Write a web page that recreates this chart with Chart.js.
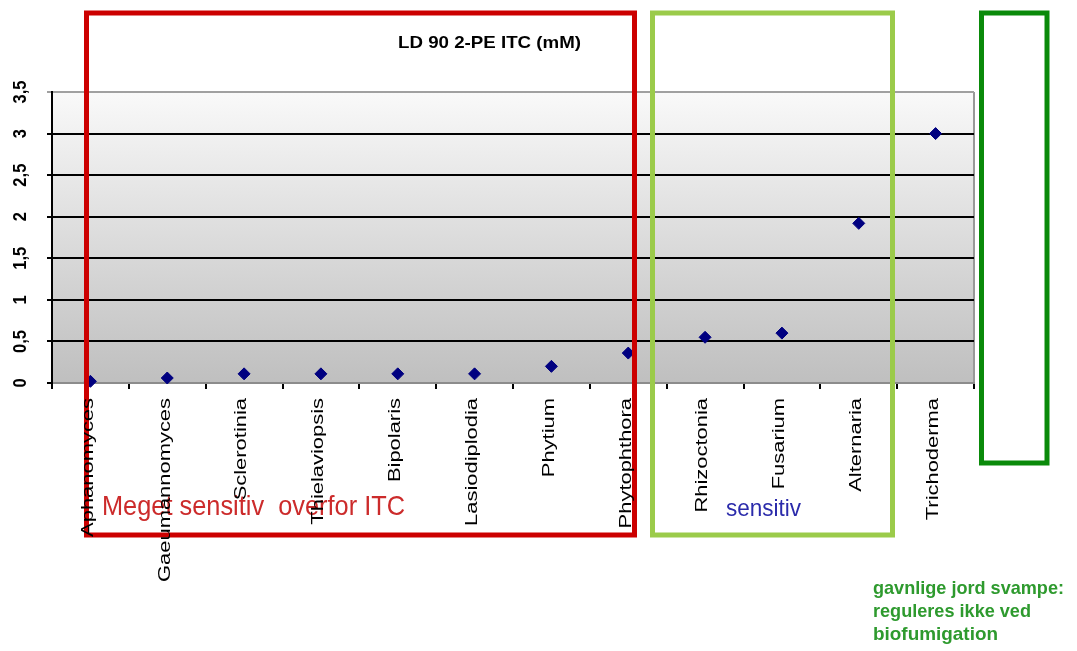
<!DOCTYPE html>
<html lang="da">
<head>
<meta charset="UTF-8">
<title>LD 90 2-PE ITC (mM)</title>
<script src="https://cdn.jsdelivr.net/npm/chart.js"></script>
<style>
    html, body { margin: 0; padding: 0; background: #ffffff; }
    #wrap { width: 1077px; height: 651px; }
</style>
</head>
<body>
<div id="wrap"><canvas id="chart"></canvas></div>
<script>
// fungi, in plot order
const categories = ["Aphanomyces", "Gaeumannomyces", "Sclerotinia", "Thielaviopsis", "Bipolaris",
    "Lasiodiplodia", "Phytium", "Phytophthora", "Rhizoctonia", "Fusarium", "Alternaria", "Trichoderma"];
// LD 90 of 2-PE ITC, mM
const ld90 = [0.02, 0.06, 0.11, 0.11, 0.11, 0.11, 0.2, 0.36, 0.55, 0.6, 1.92, 3.0];
const yMin = 0, yMax = 3.5, yStep = 0.5;

const titleText = "LD 90 2-PE ITC (mM)";
const groupRed = "Meget sensitiv  overfor ITC";
const groupBlue = "sensitiv";
const groupGreen = ["gavnlige jord svampe:", "reguleres ikke ved", "biofumigation"];

const FONT = "'Liberation Sans', Arial, sans-serif";

// draw text, optionally rotated and stretched along its direction
function drawText(ctx, text, x, y, o) {
    ctx.save();
    ctx.font = o.font;
    ctx.fillStyle = o.color || "#000";
    ctx.textAlign = o.align || "left";
    ctx.textBaseline = o.baseline || "alphabetic";
    ctx.translate(x, y);
    if (o.rotate) ctx.rotate(o.rotate);
    let s = o.stretch || 1;
    if (o.width) s = o.width / ctx.measureText(text).width;
    ctx.scale(s, 1);
    ctx.fillText(text, 0, 0);
    ctx.restore();
}

const plotBg = {
    id: "plotBg",
    beforeDraw(chart) {
        const { ctx, chartArea: a } = chart;
        const g = ctx.createLinearGradient(0, a.top, 0, a.bottom);
        g.addColorStop(0, "#f9f9f9");
        g.addColorStop(1, "#bfbfbf");
        ctx.save();
        ctx.fillStyle = g;
        ctx.fillRect(a.left, a.top, a.right - a.left, a.bottom - a.top);
        // right edge of plot frame
        ctx.strokeStyle = "#999999";
        ctx.lineWidth = 2;
        ctx.beginPath();
        ctx.moveTo(a.right, a.top);
        ctx.lineTo(a.right, a.bottom);
        ctx.stroke();
        ctx.restore();
    }
};

const overlay = {
    id: "overlay",
    afterDraw(chart) {
        const { ctx } = chart;
        const xs = chart.scales.x, ys = chart.scales.y;

        // group frames
        ctx.save();
        ctx.lineWidth = 5;
        ctx.strokeStyle = "#cc0000";
        ctx.strokeRect(86.5, 13, 548, 522);
        ctx.strokeStyle = "#9bcb4a";
        ctx.strokeRect(652.5, 13, 240, 522);
        ctx.strokeStyle = "#0a8a0a";
        ctx.strokeRect(981.5, 13, 65.5, 450);
        ctx.restore();

        // group texts
        drawText(ctx, groupRed, 102, 515, { font: "28px " + FONT, color: "#cc2b2b", width: 303 });
        drawText(ctx, groupBlue, 726, 516, { font: "24px " + FONT, color: "#2b2bab", width: 75 });
        const gy = [594, 617, 640], gw = [191, 158, 125];
        groupGreen.forEach((t, i) => {
            drawText(ctx, t, 873, gy[i], { font: "bold 19px " + FONT, color: "#2e9a2e", width: gw[i] });
        });

        // title
        drawText(ctx, titleText, 398, 48, { font: "bold 17px " + FONT, color: "#000", width: 183 });

        // y tick labels, rotated
        ys.ticks.forEach(t => {
            const py = ys.getPixelForValue(t.value);
            const lbl = String(t.value).replace(".", ",");
            drawText(ctx, lbl, 21, py, { font: "bold 18px " + FONT, align: "center", baseline: "middle",
                rotate: -Math.PI / 2, stretch: 0.92 });
        });

        // category labels, rotated and stretched
        categories.forEach((c, i) => {
            const px = xs.getPixelForTick(i);
            drawText(ctx, c, px - 2, xs.top + 15, { font: "16px " + FONT, align: "right", baseline: "middle",
                rotate: -Math.PI / 2, stretch: 1.37 });
        });
    }
};

new Chart(document.getElementById("chart"), {
    type: "line",
    data: {
        labels: categories,
        datasets: [{
            label: "LD 90",
            data: ld90,
            showLine: false,
            pointStyle: "rectRot",
            pointRadius: 6,
            pointHoverRadius: 6,
            backgroundColor: "#000080",
            borderColor: "#000080",
            borderWidth: 1,
            clip: false
        }]
    },
    options: {
        responsive: true,
        maintainAspectRatio: false,
        animation: false,
        layout: { padding: { top: 92, right: 103, bottom: 0, left: 0 } },
        plugins: {
            legend: { display: false },
            title: { display: false },
            tooltip: { enabled: false }
        },
        scales: {
            x: {
                offset: true,
                grid: { offset: true, drawOnChartArea: false, drawTicks: true, tickLength: 6, color: "#000", lineWidth: 2 },
                border: { display: true, color: "#8c8c8c", width: 2 },
                ticks: { display: false },
                afterFit(scale) { scale.height = 268; }
            },
            y: {
                min: yMin,
                max: yMax,
                ticks: { stepSize: yStep, display: false },
                grid: {
                    tickLength: 5,
                    lineWidth: 2,
                    color: ctx => (ctx.tick && ctx.tick.value === yMax ? "#a0a0a0" : "#000")
                },
                border: { display: true, color: "#000", width: 2 },
                afterFit(scale) { scale.width = 52; }
            }
        }
    },
    plugins: [plotBg, overlay]
});
</script>
</body>
</html>
